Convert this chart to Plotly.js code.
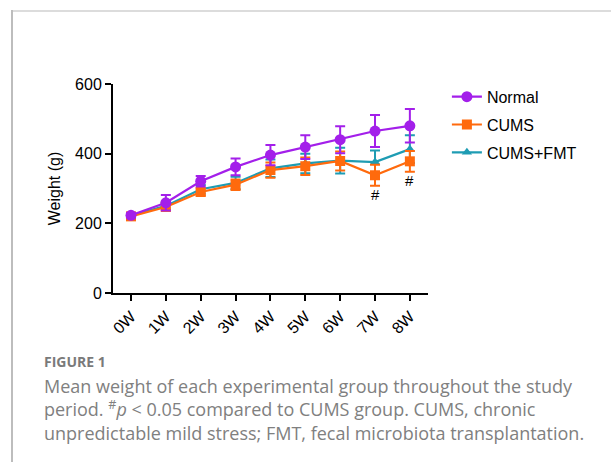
<!DOCTYPE html>
<html>
<head>
<meta charset="utf-8">
<script src="https://cdn.plot.ly/plotly-3.0.1.min.js"></script>
<style>
html,body{margin:0;padding:0;background:#fff;}
#wrap{position:relative;width:611px;height:464px;overflow:hidden;}
#frameTop{position:absolute;left:11px;top:10px;width:600px;height:2px;background:#dcdcdc;}
#frameLeft{position:absolute;left:11px;top:10px;width:2px;height:452px;background:#bdbdbd;}
#chart{position:absolute;left:0;top:0;width:611px;height:464px;}
</style>
</head>
<body>
<div id="wrap">
<div id="chart"></div>
<div id="frameTop"></div>
<div id="frameLeft"></div>
</div>
<script>
const weeks = ['0W','1W','2W','3W','4W','5W','6W','7W','8W'];
const normalMean = [223, 259, 321, 362, 396, 419, 440, 465, 480];
const normalErr  = [6, 22, 15, 24, 29, 34, 39, 46, 48];
const cumsMean   = [220, 247, 290, 311, 353, 364, 379, 338, 378];
const cumsErr    = [5, 10, 10, 15, 22, 25, 27, 30, 30];
const fmtMean    = [222, 250, 298, 316, 358, 372, 380, 376, 413];
const fmtErr     = [5, 10, 12, 18, 25, 28, 37, 33, 40];
const sigWeeks   = ['7W','8W'];
const sigLabel   = '#';

const cPurple = '#A31FEA', cOrange = '#FF6A0D', cTeal = '#1E9CB3';

function trace(name, y, err, color, symbol, size, rank){
  return {
    type:'scatter', mode:'lines+markers', name:name, x:weeks, y:y,
    line:{color:color, width:2.2},
    marker:{color:color, symbol:symbol, size:size},
    error_y:{type:'data', array:err, visible:true, color:color, thickness:2, width:5},
    legendrank: rank, legendgroup: name
  };
}

const data = [
  trace('CUMS+FMT', fmtMean, fmtErr, cTeal, 'triangle-up', 9, 3),
  trace('CUMS', cumsMean, cumsErr, cOrange, 'square', 10, 2),
  trace('Normal', normalMean, normalErr, cPurple, 'circle', 11, 1)
];

const annotations = sigWeeks.map(w => {
  const i = weeks.indexOf(w);
  return {x:w, y:cumsMean[i]-cumsErr[i], xref:'x', yref:'y', text:sigLabel, showarrow:false,
          yanchor:'top', yshift:2, font:{family:'Arial', size:15, color:'#000'}};
});
annotations.push({
  xref:'paper', yref:'paper', x:-0.226, y:-0.33, xanchor:'left', yanchor:'middle',
  text:'<b>FIGURE 1</b>', showarrow:false, align:'left',
  font:{family:'Open Sans', size:14, color:'#7a7a7a'}
});
annotations.push({
  xref:'paper', yref:'paper', x:-0.226, y:-0.38, xanchor:'left', yanchor:'top',
  text:'Mean weight of each experimental group throughout the study<br>period. <sup>#</sup><i>p</i> &lt; 0.05 compared to CUMS group. CUMS, chronic<br>unpredictable mild stress; FMT, fecal microbiota transplantation.',
  showarrow:false, align:'left',
  font:{family:'Open Sans', size:18, color:'#808080'}
});

const layout = {
  width:611, height:464,
  margin:{l:113, r:183, t:84, b:171},
  paper_bgcolor:'#fff', plot_bgcolor:'#fff',
  font:{family:'Arial', color:'#000'},
  showlegend:true,
  legend:{x:1.06, xanchor:'left', y:1.02, yanchor:'top', traceorder:'grouped', tracegroupgap:4,
          font:{family:'Arial', size:16, color:'#000'}, bgcolor:'rgba(0,0,0,0)'},
  xaxis:{type:'category', range:[-0.516, 8.52], showline:true, linecolor:'#000', linewidth:2,
         ticks:'outside', ticklen:6, tickwidth:2, tickcolor:'#000', tickangle:-45,
         tickfont:{family:'Arial', size:16, color:'#000'}, showgrid:false, zeroline:false},
  yaxis:{range:[0,600], tickvals:[0,200,400,600], showline:true, linecolor:'#000', linewidth:2,
         ticks:'outside', ticklen:6, tickwidth:2, tickcolor:'#000',
         tickfont:{family:'Arial', size:16, color:'#000'}, showgrid:false, zeroline:false,
         title:{text:'Weight (g)', font:{family:'Arial', size:16, color:'#000'}, standoff:10}},
  annotations:annotations
};

Plotly.newPlot('chart', data, layout, {displayModeBar:false, staticPlot:true});
</script>
</body>
</html>
